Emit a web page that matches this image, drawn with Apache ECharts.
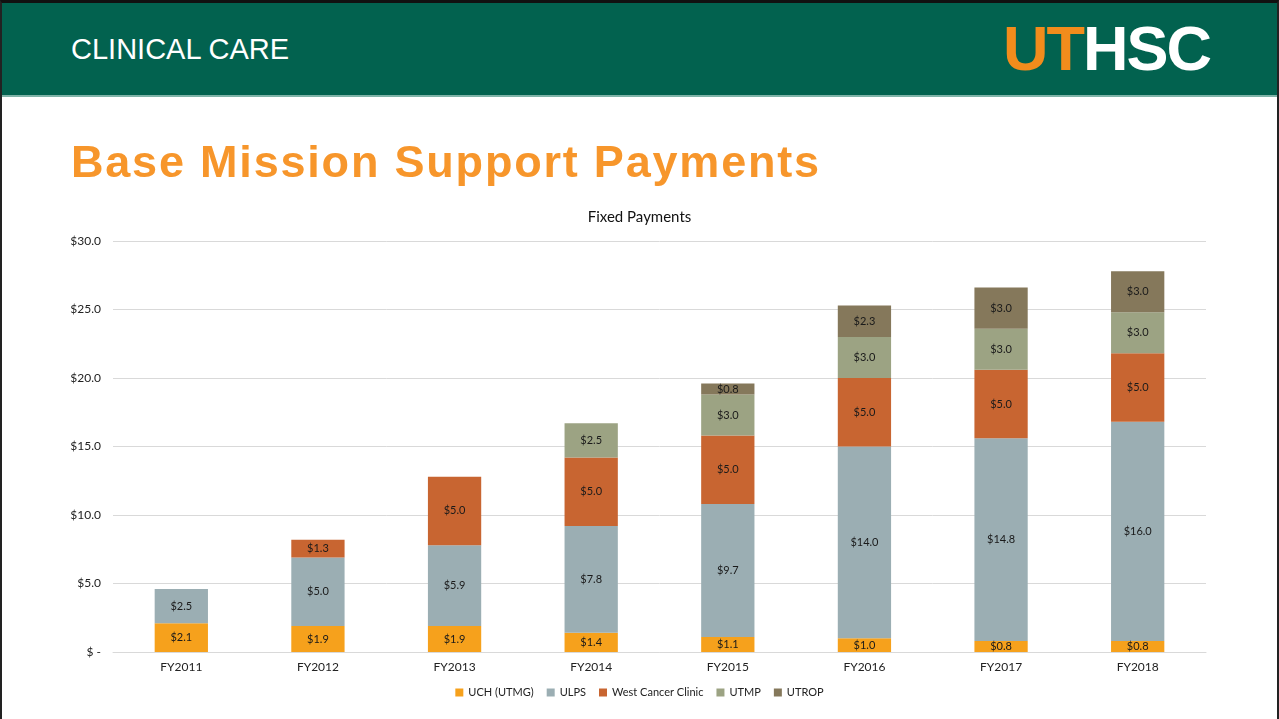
<!DOCTYPE html>
<html>
<head>
<meta charset="utf-8">
<script src="https://cdn.jsdelivr.net/npm/echarts@6/dist/echarts.min.js"></script>
<style>
  html, body { margin: 0; padding: 0; background: #fff; }
  #slide { position: relative; width: 1279px; height: 719px; overflow: hidden; background: #fff; }
  #frame { position: absolute; left: 0; top: 0; width: 1279px; height: 719px; box-sizing: border-box;
           border-top: 3px solid #111; border-left: 2px solid #222; border-right: 2px solid #222; pointer-events: none; }
  #header { position: absolute; left: 0; top: 0; right: 0; height: 95px; background: #02624F;
            border-bottom: 2px solid #7fb3a8; }
  #section { position: absolute; left: 71px; top: 33px; color: #fff; font: 29px "Liberation Sans", Arial, sans-serif; letter-spacing: 0px; }
  #logo { position: absolute; left: 1003px; top: 12px; font: 900 63px "Liberation Sans", Arial, sans-serif; letter-spacing: -2px; }
  #logo .ut { color: #F28C1C; }
  #logo .hsc { color: #fff; }
  #title { position: absolute; left: 71px; top: 136px; color: #F7962B; font: bold 45px "Liberation Sans", Arial, sans-serif; letter-spacing: 1.8px; }
  #chart { position: absolute; left: 0; top: 0; width: 1279px; height: 719px; }
</style>
</head>
<body>
<div id="slide">
  <div id="chart"></div>
  <div id="header">
    <div id="section">CLINICAL CARE</div>
    <div id="logo"><span class="ut">UT</span><span class="hsc">HSC</span></div>
  </div>
  <div id="title">Base Mission Support Payments</div>
  <div id="frame"></div>
</div>
<script>
// 财年类别
var years = ['FY2011', 'FY2012', 'FY2013', 'FY2014', 'FY2015', 'FY2016', 'FY2017', 'FY2018'];
// 各项付款（百万美元）
var uch      = [2.1, 1.9, 1.9, 1.4, 1.1, 1.0, 0.8, 0.8];
var ulps     = [2.5, 5.0, 5.9, 7.8, 9.7, 14.0, 14.8, 16.0];
var westCanc = [null, 1.3, 5.0, 5.0, 5.0, 5.0, 5.0, 5.0];
var utmp     = [null, null, null, 2.5, 3.0, 3.0, 3.0, 3.0];
var utrop    = [null, null, null, null, 0.8, 2.3, 3.0, 3.0];
var yTicks   = [0, 5, 10, 15, 20, 25, 30];

var font = 'Lato, "Open Sans", sans-serif';
var lbl = {
    show: true, position: 'inside', color: '#1a1a1a', fontSize: 11, fontFamily: font,
    formatter: function (p) { return p.value == null ? '' : '$' + p.value.toFixed(1); }
};
function mk(name, data, color) {
    return { name: name, type: 'bar', stack: 'pay', data: data, barWidth: '39%',
             itemStyle: { color: color }, label: lbl };
}

var myChart = echarts.init(document.getElementById('chart'));
var option = {
    animation: false,
    title: { text: 'Fixed Payments', left: 'center', top: 205,
             textStyle: { fontFamily: font, fontSize: 15, fontWeight: 'normal', color: '#111' } },
    grid: { left: 113, right: 73, top: 241, bottom: 67 },
    legend: { bottom: 16, left: 'center', itemWidth: 8, itemHeight: 8, itemGap: 13, icon: 'rect',
              textStyle: { fontFamily: font, fontSize: 11, color: '#222' } },
    xAxis: { type: 'category', data: years,
             axisLine: { lineStyle: { color: '#d9d9d9' } }, axisTick: { show: false },
             axisLabel: { color: '#222', fontSize: 12, fontFamily: font, margin: 9 } },
    yAxis: { type: 'value', min: yTicks[0], max: yTicks[yTicks.length - 1], interval: 5,
             axisLine: { show: false }, axisTick: { show: false },
             splitLine: { lineStyle: { color: '#d9d9d9' } },
             axisLabel: { color: '#222', fontSize: 12, fontFamily: font, margin: 12,
                          formatter: function (v) { return v === 0 ? '$ -' : '$' + v.toFixed(1); } } },
    series: [
        mk('UCH (UTMG)', uch, '#F6A11C'),
        mk('ULPS', ulps, '#9BAEB3'),
        mk('West Cancer Clinic', westCanc, '#C86531'),
        mk('UTMP', utmp, '#9CA383'),
        mk('UTROP', utrop, '#85785B')
    ]
};
myChart.setOption(option);
</script>
</body>
</html>
